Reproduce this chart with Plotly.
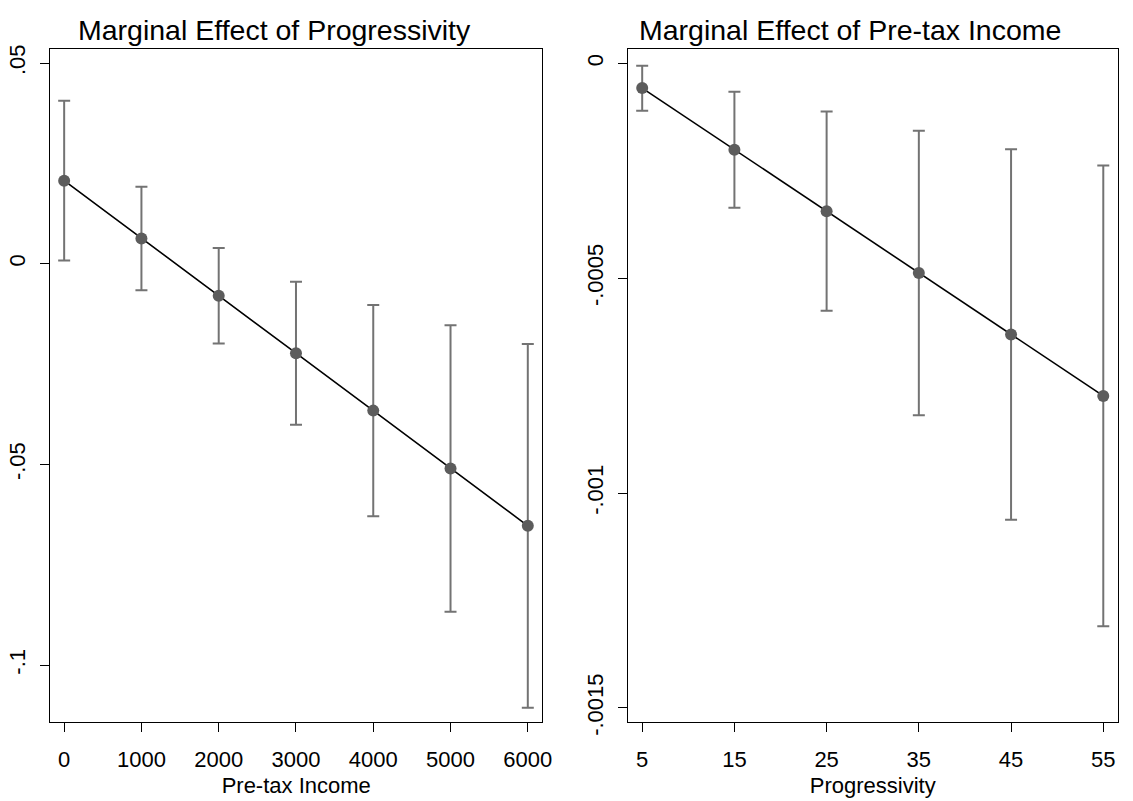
import plotly.graph_objects as go

# Left panel: marginal effect of progressivity over pre-tax income
income = [0, 1000, 2000, 3000, 4000, 5000, 6000]
me_prog = [0.0207, 0.0063, -0.0080, -0.0223, -0.0366, -0.0510, -0.0653]
me_prog_lo = [0.0008, -0.0066, -0.0199, -0.0401, -0.0629, -0.0867, -0.1106]
me_prog_hi = [0.0406, 0.0192, 0.0039, -0.0045, -0.0103, -0.0153, -0.0200]

# Right panel: marginal effect of pre-tax income over progressivity
prog = [5, 15, 25, 35, 45, 55]
me_inc = [-0.0000576, -0.000201, -0.000344, -0.000488, -0.000631, -0.000774]
me_inc_lo = [-0.0001101, -0.000336, -0.000576, -0.000819, -0.001062, -0.001310]
me_inc_hi = [-0.0000059, -0.000066, -0.000112, -0.000157, -0.000200, -0.000238]

left_yticks = [0.05, 0, -0.05, -0.1]
left_yticktext = [".05", "0", "-.05", "-.1"]
right_yticks = [0, -0.0005, -0.001, -0.0015]
right_yticktext = ["0", "-.0005", "-.001", "-.0015"]

FONT = "Liberation Sans, Arial, Helvetica, sans-serif"
MARK = "#5c5c5c"
ERR = "#737373"
W, H = 1133, 801


def add_panel(fig, x, y, lo, hi, xa, ya):
    fig.add_trace(go.Scatter(
        x=x, y=y, mode="lines+markers",
        line=dict(color="black", width=1.6),
        marker=dict(color=MARK, size=12),
        error_y=dict(type="data", symmetric=False,
                     array=[h - v for h, v in zip(hi, y)],
                     arrayminus=[v - l for l, v in zip(lo, y)],
                     color=ERR, thickness=2, width=6),
        xaxis=xa, yaxis=ya, showlegend=False, hoverinfo="skip"))


fig = go.Figure()
add_panel(fig, income, me_prog, me_prog_lo, me_prog_hi, "x", "y")
add_panel(fig, prog, me_inc, me_inc_lo, me_inc_hi, "x2", "y2")

ydom = [1 - 734.3 / H, 1 - 45.7 / H]
axis_common = dict(showgrid=False, zeroline=False, showline=True, linecolor="black",
                   linewidth=1.4, mirror=True, ticks="outside", ticklen=9,
                   tickwidth=1.3, tickcolor="black",
                   tickfont=dict(family=FONT, size=22, color="black"))

fig.update_layout(
    width=W, height=H,
    margin=dict(l=0, r=0, t=0, b=0),
    paper_bgcolor="white", plot_bgcolor="white",
    font=dict(family=FONT, color="black"),
    xaxis=dict(domain=[50.7 / W, 547 / W], range=[-180, 6186],
               tickvals=income, ticktext=[str(v) for v in income],
               ticklabelstandoff=9,
               title=dict(text="Pre-tax Income", font=dict(family=FONT, size=22), standoff=6),
               anchor="y", **axis_common),
    yaxis=dict(domain=ydom, range=[-0.11413, 0.05358],
               tickvals=left_yticks, ticktext=left_yticktext, tickangle=-90,
               ticklabelstandoff=6,
               anchor="x", **axis_common),
    xaxis2=dict(domain=[633.3 / W, 1127.8 / W], range=[3.43, 56.58],
                tickvals=prog, ticktext=[str(v) for v in prog],
                ticklabelstandoff=9,
                title=dict(text="Progressivity", font=dict(family=FONT, size=22), standoff=6),
                anchor="y2", **axis_common),
    yaxis2=dict(domain=ydom, range=[-0.0015323, 0.0000341],
                tickvals=right_yticks, ticktext=right_yticktext, tickangle=-90,
                ticklabelstandoff=6,
                anchor="x2", **axis_common),
    annotations=[
        dict(text="Marginal Effect of Progressivity", x=277 / W, y=1 - 27 / H,
             xref="paper", yref="paper", xanchor="center", yanchor="middle",
             showarrow=False, font=dict(family=FONT, size=28.5, color="black")),
        dict(text="Marginal Effect of Pre-tax Income", x=858 / W, y=1 - 27 / H,
             xref="paper", yref="paper", xanchor="center", yanchor="middle",
             showarrow=False, font=dict(family=FONT, size=28.5, color="black")),
    ],
)

fig.write_html("out.html")
